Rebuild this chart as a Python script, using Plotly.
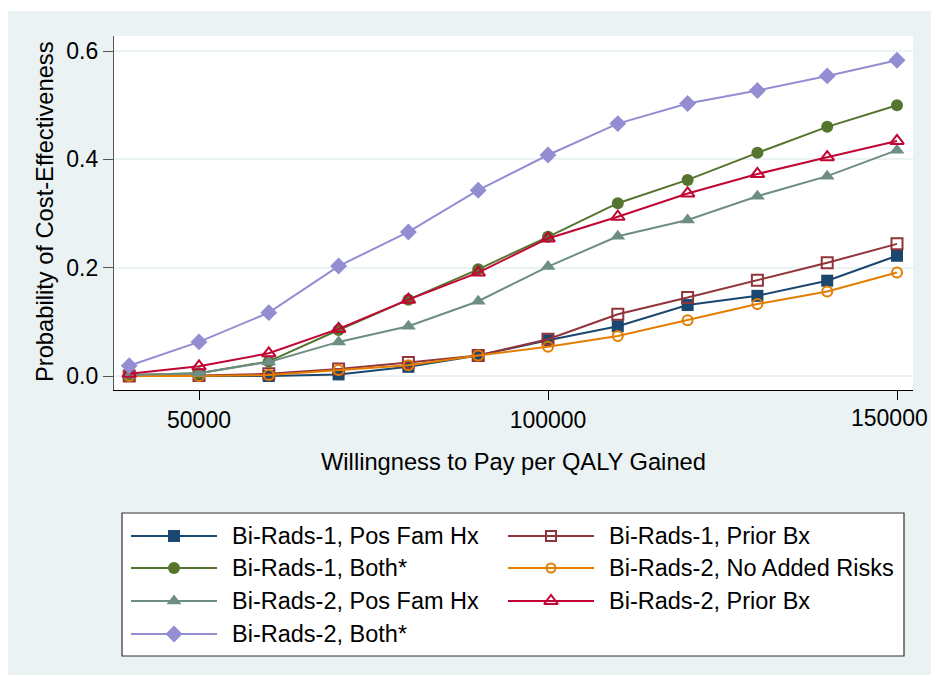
import plotly.graph_objects as go

# ---- data ----
wtp = [40000, 50000, 60000, 70000, 80000, 90000, 100000, 110000, 120000, 130000, 140000, 150000]
br1_pos_fam_hx = [0.000, 0.000, 0.000, 0.003, 0.017, 0.038, 0.066, 0.092, 0.131, 0.148, 0.176, 0.222]
br1_prior_bx = [0.000, 0.001, 0.004, 0.013, 0.025, 0.038, 0.068, 0.114, 0.145, 0.177, 0.209, 0.244]
br1_both = [0.002, 0.005, 0.027, 0.085, 0.141, 0.197, 0.257, 0.319, 0.362, 0.412, 0.460, 0.500]
br2_no_added = [0.000, 0.000, 0.002, 0.011, 0.020, 0.038, 0.054, 0.074, 0.103, 0.133, 0.156, 0.191]
br2_pos_fam_hx = [0.002, 0.005, 0.026, 0.063, 0.092, 0.138, 0.202, 0.258, 0.288, 0.332, 0.369, 0.417]
br2_prior_bx = [0.004, 0.018, 0.042, 0.087, 0.141, 0.191, 0.254, 0.294, 0.337, 0.373, 0.404, 0.434]
br2_both = [0.019, 0.063, 0.117, 0.203, 0.266, 0.343, 0.408, 0.466, 0.503, 0.527, 0.554, 0.583]

series_names = [
    "Bi-Rads-1, Pos Fam Hx", "Bi-Rads-1, Prior Bx", "Bi-Rads-1, Both*",
    "Bi-Rads-2, No Added Risks", "Bi-Rads-2, Pos Fam Hx", "Bi-Rads-2, Prior Bx",
    "Bi-Rads-2, Both*",
]
series_values = [br1_pos_fam_hx, br1_prior_bx, br1_both, br2_no_added,
                 br2_pos_fam_hx, br2_prior_bx, br2_both]
x_tick_vals = [50000, 100000, 150000]
x_tick_text = ["50000", "100000", "150000"]
y_tick_vals = [0.0, 0.2, 0.4, 0.6]
y_tick_text = ["0.0", "0.2", "0.4", "0.6"]
x_title = "Willingness to Pay per QALY Gained"
y_title = "Probability of Cost-Effectiveness"

# ---- styles ----
colors = ["#1a476f", "#90353b", "#55752f", "#e37e00", "#6e8e84", "#c10534", "#938dd2"]
symbols = ["square", "square-open", "circle", "circle-open", "triangle-up",
           "triangle-up-open", "diamond"]
sizes = [12, 11, 12, 10, 13, 12, 13]
leg_sizes = [12, 10, 12, 9, 13, 12, 13]

OFF = 8  # default page body margin
W, H = 939 - 2 * OFF, 683 - 2 * OFF
FONT = "Liberation Sans, Arial, Helvetica, sans-serif"
FS = 23
FS_TITLE = 23.7
FS_LEG = 23.5
BG = "#eaf2f3"


def fx(xp):  # page pixel -> figure pixel (x)
    return xp - OFF


def fy(yp):
    return yp - OFF


L, R, T, B = fx(114), fx(913), fy(36), fy(390)  # plot area in figure pixels


def px(xp):
    return fx(xp) / W


def py(yp):
    return 1 - fy(yp) / H


fig = go.Figure()
for name, vals, c, s, sz in zip(series_names, series_values, colors, symbols, sizes):
    fig.add_trace(go.Scatter(
        x=wtp, y=vals, name=name, mode="lines+markers",
        line=dict(color=c, width=2),
        marker=dict(symbol=s, size=sz, color=c, line=dict(color=c, width=2 if "open" in s else 0)),
        showlegend=False,
    ))

shapes = [
    dict(type="rect", xref="paper", yref="paper", x0=0, x1=1, y0=py(11), y1=0,
         fillcolor=BG, line=dict(width=0), layer="below"),
    dict(type="rect", xref="paper", yref="paper", x0=px(114), x1=px(913), y0=py(36), y1=py(390),
         fillcolor="white", line=dict(width=0), layer="below"),
    # legend box
    dict(type="rect", xref="paper", yref="paper", x0=px(122), x1=px(904), y0=py(513), y1=py(656),
         fillcolor="white", line=dict(color="#333333", width=1.2), layer="below"),
]

annotations = [
    dict(text=x_title, xref="paper", yref="paper", x=px(513), y=py(462),
         xanchor="center", yanchor="middle", showarrow=False,
         font=dict(family=FONT, size=FS_TITLE, color="black")),
    dict(text=y_title, xref="paper", yref="paper", x=px(45), y=py(212), textangle=-90,
         xanchor="center", yanchor="middle", showarrow=False,
         font=dict(family=FONT, size=FS_TITLE, color="black")),
    # last x tick label: the axis hides it because it reaches the page edge,
    # so it is drawn at its tick value, nudged to stay inside the figure
    dict(text=x_tick_text[-1], xref="x", yref="paper", x=x_tick_vals[-1], y=py(418),
         xanchor="right", xshift=fx(935) - fx(897) - 4 - 0.5 * 0, yanchor="middle",
         showarrow=False, font=dict(family=FONT, size=FS, color="black")),
]
# xshift above: right edge of the label text placed just inside the figure edge
annotations[-1]["xshift"] = (W - 1) - (fx(897))

# custom legend (row-major, 2 columns), drawn on a full-figure pixel axis
row_y = [536, 568, 601, 634]
col_line = [(131, 217, 174, 230), (508, 594, 551, 607)]
for i, (name, c, s, sz) in enumerate(zip(series_names, colors, symbols, leg_sizes)):
    r, col = divmod(i, 2)
    x0, x1, xm, xt = col_line[col]
    y = row_y[r]
    fig.add_trace(go.Scatter(
        x=[fx(x0), fx(x1)], y=[fy(y), fy(y)], xaxis="x2", yaxis="y2", mode="lines",
        line=dict(color=c, width=2), showlegend=False, hoverinfo="skip"))
    fig.add_trace(go.Scatter(
        x=[fx(xm)], y=[fy(y)], xaxis="x2", yaxis="y2", mode="markers",
        marker=dict(symbol=s, size=sz, color=c, line=dict(color=c, width=2 if "open" in s else 0)),
        showlegend=False, hoverinfo="skip"))
    annotations.append(dict(text=name, xref="paper", yref="paper", x=px(xt), y=py(y),
                            xanchor="left", yanchor="middle", showarrow=False,
                            font=dict(family=FONT, size=FS_LEG, color="black")))

fig.update_layout(
    width=W, height=H,
    margin=dict(l=0, r=0, t=0, b=0, pad=0),
    paper_bgcolor="white", plot_bgcolor="rgba(0,0,0,0)",
    font=dict(family=FONT, size=FS, color="black"),
    showlegend=False,
    shapes=shapes, annotations=annotations,
    xaxis=dict(
        domain=[L / W, R / W],
        range=[37822, 152292], tickvals=x_tick_vals, ticktext=x_tick_text,
        showgrid=False, zeroline=False, showline=True, linecolor="black", linewidth=1.3,
        ticks="outside", ticklen=9, tickwidth=1.3, tickcolor="black",
        tickfont=dict(family=FONT, size=FS, color="black"),
    ),
    yaxis=dict(
        domain=[1 - B / H, 1 - T / H],
        range=[-0.0258, 0.6277], tickvals=y_tick_vals, ticktext=y_tick_text,
        showgrid=True, gridcolor=BG, gridwidth=1.5, zeroline=False,
        showline=True, linecolor="#555555", linewidth=1.3,
        ticks="outside", ticklen=10, tickwidth=1.3, tickcolor="#555555",
        tickfont=dict(family=FONT, size=FS, color="black"),
    ),
    xaxis2=dict(domain=[0, 1], range=[0, W], anchor="y2", visible=False, fixedrange=True),
    yaxis2=dict(domain=[0, 1], range=[H, 0], anchor="x2", visible=False, fixedrange=True),
)

fig.write_html("out.html", config={"displayModeBar": False})
